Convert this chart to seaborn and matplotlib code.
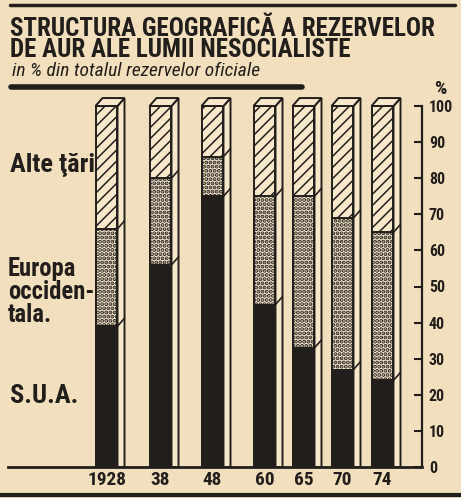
import matplotlib
matplotlib.use("Agg")
import matplotlib.pyplot as plt
import seaborn as sns
import numpy as np
from matplotlib import font_manager as fm
from matplotlib.patches import Polygon
from matplotlib.lines import Line2D

# ---- data ----
years = ["1928", "38", "48", "60", "65", "70", "74"]
sua = [39, 56, 75, 45, 33, 27, 24]
europa = [27, 24, 11, 30, 42, 42, 41]
alte = [34, 20, 14, 25, 25, 31, 35]
y_ticks = [0, 10, 20, 30, 40, 50, 60, 70, 80, 90, 100]

# ---- layout / style ----
bar_pos = [0, 1.08, 2.12, 3.16, 3.94, 4.72, 5.52]
BG = "#f2dfbd"
SIDE = "#f7e8cc"
INK = "#221e1b"

# pick a condensed face if one is installed
fonts = fm.fontManager.ttflist
names = {f.name for f in fonts}
FAMILY, STRETCH = "DejaVu Sans", "normal"
for cand in ["Roboto Condensed", "Liberation Sans Narrow", "Open Sans Condensed",
             "Noto Sans Condensed", "DejaVu Sans Condensed"]:
    if cand in names:
        FAMILY = cand
        break
else:
    for f in fonts:
        if f.stretch in ("condensed", "semi-condensed") and f.name in (
                "DejaVu Sans", "Noto Sans", "Open Sans", "Roboto", "Liberation Sans"):
            FAMILY, STRETCH = f.name, f.stretch
            break

sns.set_theme(style="white")
plt.rcParams["font.family"] = [FAMILY, "DejaVu Sans"]
plt.rcParams["font.stretch"] = STRETCH
plt.rcParams["hatch.color"] = INK

W, H = 461, 498
fig = plt.figure(figsize=(W / 100, H / 100), dpi=100, facecolor=BG)
ax = fig.add_axes([8 / W, 31 / H, 414 / W, 361 / H])
ax.set_facecolor("none")

seg_low = np.array(sua)
seg_mid = seg_low + np.array(europa)
seg_top = seg_mid + np.array(alte)

common = dict(native_scale=True, orient="x", width=0.564, saturation=1,
              errorbar=None, edgecolor=INK, linewidth=1.4, ax=ax)
plt.rcParams["hatch.linewidth"] = 1.1
sns.barplot(x=bar_pos, y=seg_top, color=SIDE, hatch="///", **common)
top_patches = list(ax.patches)
plt.rcParams["hatch.linewidth"] = 2.0
sns.barplot(x=bar_pos, y=seg_mid, color=SIDE, hatch="....", **common)
sns.barplot(x=bar_pos, y=seg_low, color=INK, **common)

# 3-D side and top faces built from the bar geometry
dx, dy = 0.14, 2.2
for i, p in enumerate(top_patches):
    x0, w, h = p.get_x(), p.get_width(), p.get_height()
    x1 = x0 + w
    ax.add_patch(Polygon([(x1, 0), (x1 + dx, 0), (x1 + dx, h + dy), (x1, h)],
                         closed=True, fc=SIDE, ec=INK, lw=1.4, clip_on=False, zorder=1))
    ax.add_patch(Polygon([(x0, h), (x0 + dx, h + dy), (x1 + dx, h + dy), (x1, h)],
                         closed=True, fc=SIDE, ec=INK, lw=1.4, clip_on=False, zorder=1))
    for yb in (seg_low[i], seg_mid[i]):
        ax.add_line(Line2D([x1, x1 + dx], [yb, yb + dy], color=INK, lw=1.2,
                           clip_on=False, zorder=3))

ax.set_xlim(-1.97, 6.31)
ax.set_ylim(0, 100)
ax.set_xticks(bar_pos)
ax.set_xticklabels(years, fontsize=14, fontweight="bold", color=INK)
ax.tick_params(axis="x", length=0, pad=3)
ax.yaxis.tick_right()
ax.set_yticks(y_ticks)
ax.set_yticklabels([str(t) for t in y_ticks], fontsize=13, fontweight="bold", color=INK)
ax.tick_params(axis="y", direction="in", length=6, width=1.5, pad=5, colors=INK)
ax.set_xlabel("")
ax.set_ylabel("")
for s in ("left", "top"):
    ax.spines[s].set_visible(False)
ax.spines["right"].set_color(INK)
ax.spines["right"].set_linewidth(1.6)
ax.spines["bottom"].set_color(INK)
ax.spines["bottom"].set_linewidth(2.0)


def fy(px):
    return 1 - px / H


renderer = fig.canvas.get_renderer()


def fit(t, target_px, max_size):
    """shrink a text so its rendered width matches the reference width"""
    wpx = t.get_window_extent(renderer=renderer).width
    size = t.get_fontsize() * target_px / wpx
    t.set_fontsize(min(size, max_size))
    return t


# va="baseline" on multi-line text aligns the LAST line's baseline
tkw = dict(color=INK, fontweight="bold", va="baseline", ha="left")
fit(fig.text(10 / W, fy(57),
             "STRUCTURA GEOGRAFICĂ A REZERVELOR\nDE AUR ALE LUMII NESOCIALISTE",
             fontsize=17, linespacing=0.84, **tkw), 435, 18)
fit(fig.text(12 / W, fy(76), "in % din totalul rezervelor oficiale", fontsize=13,
             color=INK, style="italic", va="baseline", ha="left"), 251, 14)
fig.text(440 / W, fy(94), "%", fontsize=14, color=INK, fontweight="bold",
         va="baseline", ha="center")

fit(fig.text(10 / W, fy(172), "Alte ţări", fontsize=18, **tkw), 86, 19)
fit(fig.text(8 / W, fy(322), "Europa\nocciden-\ntala.", fontsize=18,
             linespacing=0.95, **tkw), 86, 19)
fit(fig.text(10 / W, fy(403), "S.U.A.", fontsize=18, **tkw), 72, 19)

# tick label sizes fitted to the reference widths
fig.canvas.draw()
xl = ax.get_xticklabels()[0]
xs = min(17, 14 * 39 / xl.get_window_extent(renderer=renderer).width)
ax.set_xticklabels(years, fontsize=xs, fontweight="bold", color=INK)
yl = ax.get_yticklabels()[-1]
ys = min(14, 13 * 24 / yl.get_window_extent(renderer=renderer).width)
ax.set_yticklabels([str(t) for t in y_ticks], fontsize=ys, fontweight="bold", color=INK)

# decorative rules of the newspaper box
fig.add_artist(Line2D([10 / W, 455 / W], [fy(5), fy(5)], color=INK, lw=2.5))
fig.add_artist(Line2D([11 / W, 302 / W], [fy(87.5), fy(87.5)], color=INK, lw=4))
fig.add_artist(Line2D([0, 1], [fy(495), fy(495)], color=INK, lw=3))

fig.savefig("out.png", dpi=100, facecolor=BG)
